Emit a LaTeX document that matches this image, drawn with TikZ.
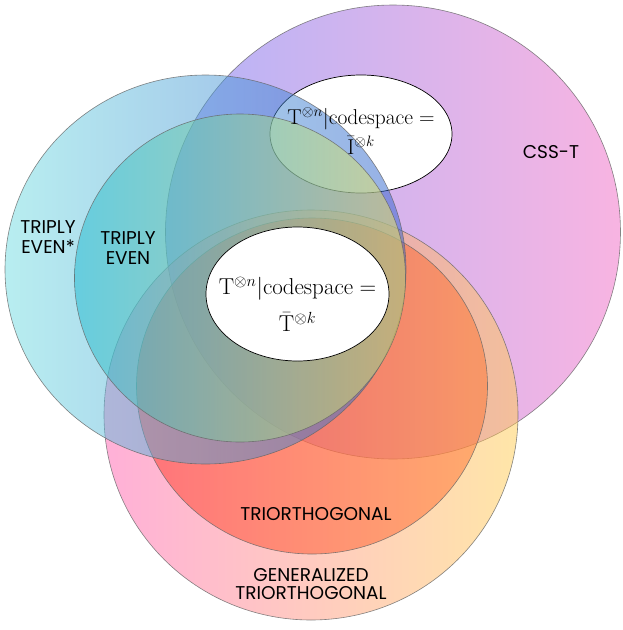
\RequirePackage{fix-cm}
\documentclass[tikz,border=0pt]{standalone}
\usepackage{amsmath}
\usepackage{fontspec}
\newfontfamily\labelfont{Poppins}
\usetikzlibrary{shapes.geometric}

\definecolor{csstleft}{RGB}{105,105,241}
\definecolor{csstright}{RGB}{241,105,197}
\definecolor{tevenstarleft}{RGB}{113,221,225}
\definecolor{tevenstarright}{RGB}{45,95,205}
\definecolor{tevenleft}{RGB}{28,184,208}
\definecolor{tevenright}{RGB}{250,235,90}
\definecolor{gentrileft}{RGB}{255,97,177}
\definecolor{gentriright}{RGB}{255,205,81}
\definecolor{triorthleft}{RGB}{255,52,36}
\definecolor{triorthright}{RGB}{255,117,47}

\begin{document}
\begin{tikzpicture}[x=1pt,y=-1pt,
  venn/.style={ellipse, inner sep=0pt, draw=black!60, line width=0.6pt, fill opacity=0.5, draw opacity=0.8},
  codespace/.style={ellipse, inner sep=0pt, draw=black, line width=0.7pt, fill=white},
  setlabel/.style={font=\labelfont\fontsize{18.5}{20}\selectfont, align=center, inner sep=0pt},
  formula/.style={align=center, inner sep=0pt}]
\useasboundingbox (0,0) rectangle (623,630);

% the sets
\node[venn, minimum width=455pt, minimum height=454pt, left color=csstleft, right color=csstright] (csst) at (393,232) {};
\node[codespace, minimum width=182pt, minimum height=118pt] (topell) at (361,134) {};
\node[venn, minimum width=414pt, minimum height=410pt, left color=gentrileft, right color=gentriright] (gentri) at (311,415) {};
\node[venn, minimum width=351pt, minimum height=336pt, left color=triorthleft, right color=triorthright] (triorth) at (312,386) {};
\node[venn, minimum width=401pt, minimum height=389pt, left color=tevenstarleft, right color=tevenstarright] (tevenstar) at (205.5,269.5) {};
\node[venn, minimum width=331pt, minimum height=328pt, left color=tevenleft, right color=tevenright] (teven) at (240,278) {};
\node[codespace, minimum width=183pt, minimum height=134pt] (midell) at (297.5,294) {};

% formulas
\node[formula, font=\fontsize{21.5}{30}\selectfont] (topformula) at (361,131)
  {$\mathrm{T}^{\otimes n}|\mathrm{codespace} =$\\ $\bar{\mathrm{I}}^{\otimes k}$};
\node[formula, font=\fontsize{23}{37}\selectfont] (midformula) at (297.5,304)
  {$\mathrm{T}^{\otimes n}|\mathrm{codespace} =$\\ $\bar{\mathrm{T}}^{\otimes k}$};

% labels
\node[setlabel] (csstlabel) at (551,152) {CSS-T};
\node[setlabel] (tevenstarlabel) at (48,237.5) {TRIPLY\\EVEN*};
\node[setlabel] (tevenlabel) at (128,248) {TRIPLY\\EVEN};
\node[setlabel] (triorthlabel) at (316,514) {TRIORTHOGONAL};
\node[setlabel, font=\labelfont\fontsize{18.5}{18}\selectfont] (gentrilabel) at (311,584) {GENERALIZED\\TRIORTHOGONAL};
\end{tikzpicture}
\end{document}
